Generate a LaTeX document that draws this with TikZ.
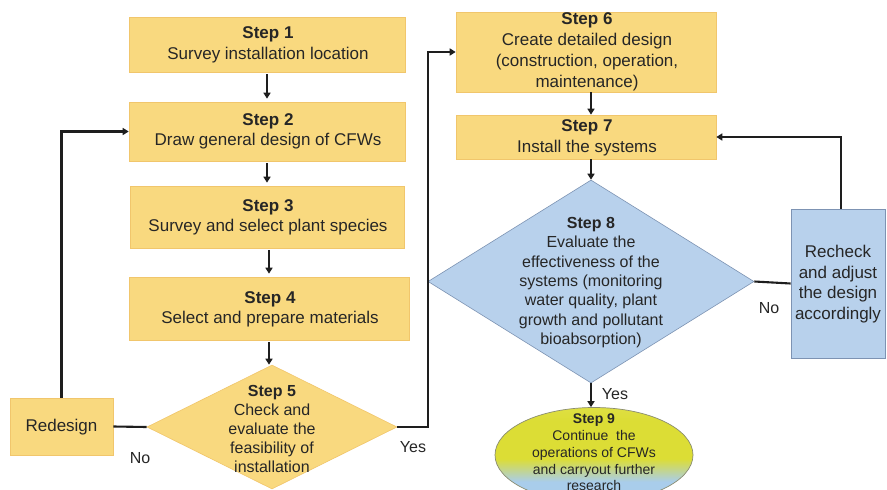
\documentclass[tikz,border=0pt]{standalone}
\usepackage{fontspec}
\setmainfont{Liberation Sans}
\usetikzlibrary{shapes.geometric,arrows.meta}

\definecolor{stepyellow}{HTML}{F9D97F}
\definecolor{stepedge}{HTML}{F1C66C}
\definecolor{checkblue}{HTML}{B8D1EC}
\definecolor{checkedge}{HTML}{7D93B3}
\definecolor{linecol}{HTML}{1E1E1E}
\definecolor{txtcol}{HTML}{262626}
\definecolor{endyellow}{HTML}{DCDD35}
\definecolor{endblue}{HTML}{A9CDEB}
\definecolor{endedge}{HTML}{8A8C70}

% final step: blue at the base fading into yellow-green above
\pgfdeclareverticalshading{stepnine}{100bp}{color(0bp)=(endblue); color(36bp)=(endblue); color(48bp)=(endyellow); color(68bp)=(endyellow); color(100bp)=(endyellow!70!white)}

\tikzset{
  stepbox/.style={rectangle, fill=stepyellow, draw=stepedge, line width=0.6pt,
    inner sep=0pt},
  checkbox/.style={rectangle, fill=checkblue, draw=checkedge, line width=0.7pt,
    inner sep=0pt},
  decision/.style={diamond, inner sep=0pt, line width=0.6pt},
  boxtext/.style={align=center, text=txtcol, inner sep=0pt, font=\fontsize{17}{20.5}\selectfont},
  dectext/.style={align=center, text=txtcol, inner sep=0pt, font=\fontsize{16}{19.3}\selectfont},
  endtext/.style={align=center, text=txtcol, inner sep=0pt, font=\fontsize{14}{16.8}\selectfont},
  flow/.style={line width=2.1pt, draw=linecol, -{Triangle[length=6pt,width=7pt]}},
  link/.style={line width=2.1pt, draw=linecol},
  tag/.style={text=txtcol, inner sep=0pt, font=\fontsize{16}{19}\selectfont}
}

\begin{document}
\begin{tikzpicture}[x=1pt,y=-1pt]
\path[use as bounding box] (0,0) rectangle (887,490);
\clip (0,0) rectangle (887,490);
\fill[white] (0,0) rectangle (887,490);

% left column
\node[stepbox, minimum width=276pt, minimum height=55pt] (s1) at (267,44.5) {};
\node[boxtext] (t1) at (268,45) {\textbf{Step 1}\\Survey installation location};
\node[stepbox, minimum width=276pt, minimum height=59pt] (s2) at (267,131.5) {};
\node[boxtext] (t2) at (268,131.5) {\textbf{Step 2}\\Draw general design of CFWs};
\node[stepbox, minimum width=274pt, minimum height=62pt] (s3) at (267,217) {};
\node[boxtext] (t3) at (268,217.5) {\textbf{Step 3}\\Survey and select plant species};
\node[stepbox, minimum width=280pt, minimum height=63pt] (s4) at (269,308.5) {};
\node[boxtext] (t4) at (270,309.5) {\textbf{Step 4}\\Select and prepare materials};
\node[decision, fill=stepyellow, draw=stepedge, minimum width=250pt, minimum height=124pt] (d5) at (272,427) {};
\node[dectext, font=\fontsize{16}{19}\selectfont] (t5) at (272,428.5) {\textbf{Step 5}\\Check and\\evaluate the\\feasibility of\\installation};
\node[stepbox, minimum width=103pt, minimum height=57pt] (rd) at (61.5,426.5) {};
\node[boxtext] (trd) at (61.5,427) {Redesign};

% right column
\node[stepbox, minimum width=260pt, minimum height=80pt] (s6) at (586,52) {};
\node[boxtext, font=\fontsize{17}{21}\selectfont] (t6) at (587,51.5) {\textbf{Step 6}\\Create detailed design\\(construction, operation,\\maintenance)};
\node[stepbox, minimum width=260pt, minimum height=44pt] (s7) at (586,137) {};
\node[boxtext] (t7) at (587,138) {\textbf{Step 7}\\Install the systems};
\node[decision, fill=checkblue, draw=checkedge, minimum width=326pt, minimum height=203pt] (d8) at (591,281.5) {};
\node[dectext] (t8) at (591,282.5) {\textbf{Step 8}\\Evaluate the\\effectiveness of the\\systems (monitoring\\water quality, plant\\growth and pollutant\\bioabsorption)};
\node[checkbox, minimum width=94pt, minimum height=149pt] (rc) at (838,283.5) {};
\node[boxtext] (trc) at (838,284) {Recheck\\and adjust\\the design\\accordingly};
\node[ellipse, shading=stepnine, draw=endedge, line width=0.7pt, inner sep=0pt,
  minimum width=198pt, minimum height=95pt] (s9) at (594,455) {};
\node[endtext] (t9) at (594,452.5) {\textbf{Step 9}\\Continue~ the\\operations of CFWs\\and carryout further\\research};

% connectors
\draw[flow, shorten <=2pt, shorten >=3pt] (s1.south) -- (s2.north);
\draw[flow, shorten <=2pt, shorten >=3pt] (s2.south) -- (s3.north);
\draw[flow, shorten <=2pt, shorten >=3pt] (s3.south -| s4.north) -- (s4.north);
\draw[flow, shorten <=2pt] (s4.south) -- (s4.south |- d5.north);
\draw[link] (rd.east) -- (d5.west);
\draw[flow] (rd.north) |- (s2.west);
\draw[flow] (d5.east) -- ++(31,0) |- (s6.west);
\draw[flow] (s6.south -| d8.north) -- (s7.north -| d8.north);
\draw[flow] (s7.south -| d8.north) -- (d8.north);
\draw[link] (d8.east) -- (rc.west);
\draw[flow] ([xshift=3pt]rc.north) |- (s7.east);
\draw[flow] (d8.south) -- (d8.south |- s9.north);

% branch labels
\node[tag] (no5) at (140,458) {No};
\node[tag] (yes5) at (413,447) {Yes};
\node[tag] (no8) at (769,308) {No};
\node[tag] (yes8) at (615,394) {Yes};
\end{tikzpicture}
\end{document}
